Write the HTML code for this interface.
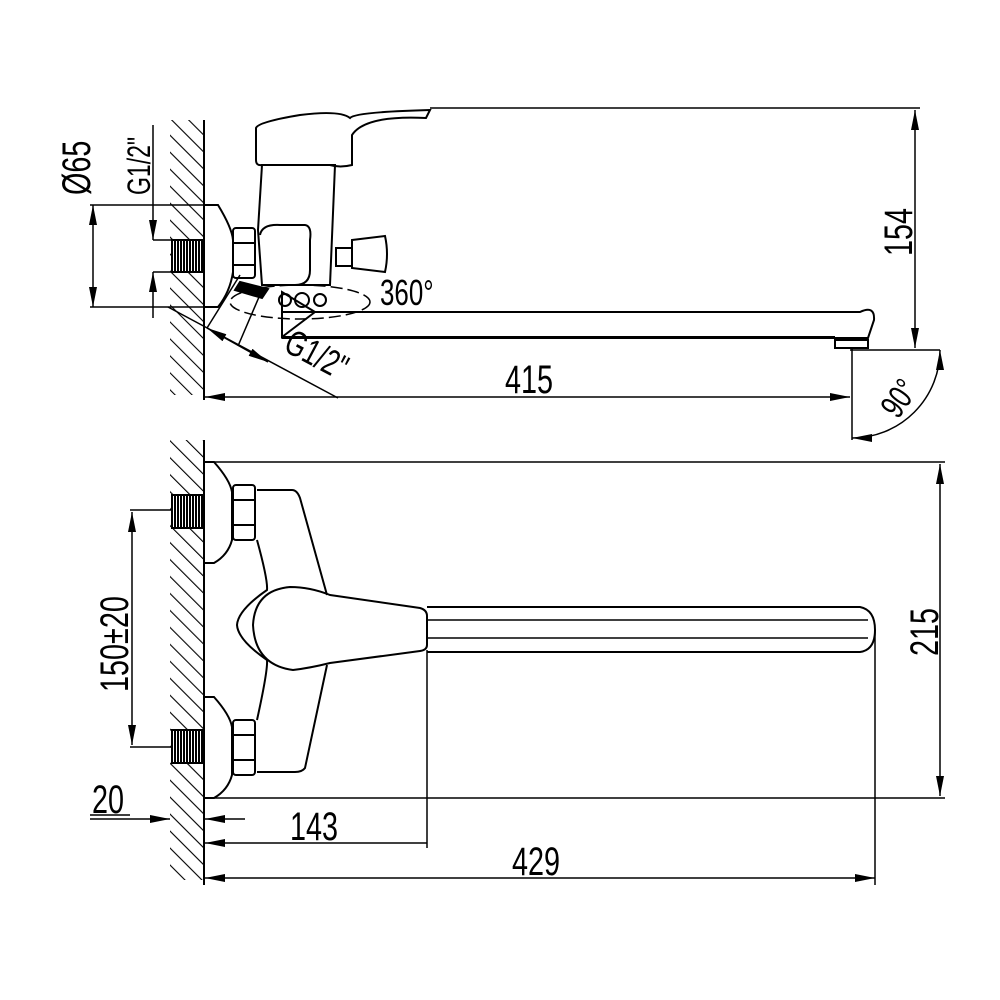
<!DOCTYPE html>
<html><head><meta charset="utf-8"><style>body{margin:0;background:#fff}svg{display:block}text{font-family:"Liberation Sans",sans-serif;fill:#000}</style></head><body>
<svg width="1000" height="1000" viewBox="0 0 1000 1000" xmlns="http://www.w3.org/2000/svg">
<defs>
<pattern id="h" width="12" height="12" patternUnits="userSpaceOnUse" patternTransform="rotate(-45)"><line x1="0" y1="0" x2="0" y2="12" stroke="#000" stroke-width="2.2"/></pattern>
<pattern id="t" width="3" height="10" patternUnits="userSpaceOnUse"><rect width="3" height="10" fill="#fff"/><rect width="2" height="10" fill="#000"/></pattern>
<marker id="a" viewBox="0 0 20 8" refX="20" refY="4" markerWidth="20" markerHeight="8" markerUnits="userSpaceOnUse" orient="auto-start-reverse"><path d="M0,0L20,4L0,8z" fill="#000"/></marker>
</defs>
<g fill="none" stroke="#000" stroke-width="2">
<!-- TOP VIEW -->
<rect x="170" y="120" width="34" height="275" fill="url(#h)" stroke="none"/>
<line x1="204" y1="120" x2="204" y2="400"/>
<rect x="172" y="240" width="32" height="32" fill="url(#t)" stroke="#000"/>
<path d="M204,205H218Q232,228 233,240V272Q230,292 218,307H204"/>
<line x1="90" y1="205" x2="218" y2="205" stroke-width="1.5"/>
<line x1="90" y1="307" x2="218" y2="307" stroke-width="1.5"/>
<line x1="93" y1="205" x2="93" y2="307" marker-start="url(#a)" marker-end="url(#a)" stroke-width="1.5"/>
<line x1="153" y1="125" x2="153" y2="240" marker-end="url(#a)" stroke-width="1.5"/>
<line x1="153" y1="318" x2="153" y2="272" marker-end="url(#a)" stroke-width="1.5"/>
<line x1="153" y1="240" x2="172" y2="240" stroke-width="1.5"/>
<line x1="153" y1="272" x2="172" y2="272" stroke-width="1.5"/>
<rect x="233" y="228" width="22" height="50" rx="3"/>
<line x1="233" y1="243" x2="255" y2="243"/><line x1="233" y1="265" x2="255" y2="265"/>
<path d="M262,165L258,230L262,285H330L335,165Z"/>
<path d="M260,235Q262,224 280,225H305Q312,226 310,240V270Q310,285 295,285H262"/>
<path d="M256,128Q258,122 300,115Q340,110 350,118Q355,112 430,110L426,118Q365,115 352,135V165Q340,168 330,165H262Q256,166 256,160Z"/>
<rect x="336" y="248" width="16" height="18"/>
<path d="M352,240L385,236Q389,254 385,272L352,268Z"/>
<path d="M240,282L268,289L262,298L235,290Z" fill="#000"/>
<ellipse cx="300" cy="302" rx="70" ry="17" stroke-dasharray="12 5" stroke-width="1.5"/>
<circle cx="285" cy="300" r="6"/><circle cx="302" cy="300" r="7"/><circle cx="320" cy="300" r="6"/>
<path d="M282,292V337L315,312Z"/>
<path d="M282,312H860Q875,305 874,320L868,338H282"/>
<line x1="282" y1="337" x2="835" y2="337"/>
<path d="M835,340H868V348H835Z"/>
<line x1="430" y1="108" x2="920" y2="108" stroke-width="1.5"/>
<line x1="850" y1="350" x2="940" y2="350" stroke-width="1.5"/>
<line x1="915" y1="110" x2="915" y2="348" marker-start="url(#a)" marker-end="url(#a)" stroke-width="1.5"/>
<line x1="852" y1="348" x2="852" y2="440" stroke-width="1.5"/>
<line x1="205" y1="397" x2="850" y2="397" marker-start="url(#a)" marker-end="url(#a)" stroke-width="1.5"/>
<path d="M852,438A88,88 0 0 0 940,350" marker-start="url(#a)" marker-end="url(#a)" stroke-width="1.5"/>
<line x1="168" y1="307" x2="338" y2="398" stroke-width="1.5"/>
<line x1="207" y1="328" x2="268" y2="362" marker-start="url(#a)" marker-end="url(#a)" stroke-width="1.5"/>
<line x1="207" y1="328" x2="240" y2="275" stroke-width="1.5"/>
<line x1="238" y1="346" x2="262" y2="290" stroke-width="1.5"/>
<!-- BOTTOM VIEW -->
<rect x="170" y="440" width="34" height="440" fill="url(#h)" stroke="none"/>
<line x1="204" y1="440" x2="204" y2="885"/>
<rect x="172" y="495" width="32" height="33" fill="url(#t)" stroke="#000"/>
<rect x="172" y="730" width="32" height="33" fill="url(#t)" stroke="#000"/>
<path d="M204,462H214Q230,480 232,492V540Q228,555 214,563H204"/>
<path d="M204,697H214Q230,715 232,727V775Q228,790 214,798H204"/>
<line x1="204" y1="462" x2="945" y2="462" stroke-width="1.5"/>
<line x1="204" y1="798" x2="945" y2="798" stroke-width="1.5"/>
<line x1="940" y1="464" x2="940" y2="796" marker-start="url(#a)" marker-end="url(#a)" stroke-width="1.5"/>
<rect x="233" y="485" width="22" height="55" rx="3"/><line x1="233" y1="500" x2="255" y2="500"/><line x1="233" y1="525" x2="255" y2="525"/>
<rect x="233" y="720" width="22" height="55" rx="3"/><line x1="233" y1="735" x2="255" y2="735"/><line x1="233" y1="760" x2="255" y2="760"/>
<path d="M257,490H292Q297,490 300,498L327,595M327,665L305,768Q302,772 295,772H257M257,540Q268,580 267,590Q238,610 237,625Q238,640 267,660Q268,670 257,720"/>
<path d="M330,595L420,608Q427,610 427,616V645Q427,650 420,651L330,663Q310,668 293,670Q255,665 253,625Q255,590 290,587Q310,587 330,595Z"/>
<path d="M427,607H860Q875,610 875,630Q875,650 860,652H427"/>
<line x1="427" y1="620" x2="868" y2="620" stroke-width="1.5"/>
<line x1="427" y1="638" x2="868" y2="638" stroke-width="1.5"/>
<line x1="427" y1="650" x2="427" y2="848" stroke-width="1.5"/>
<line x1="875" y1="630" x2="875" y2="885" stroke-width="1.5"/>
<line x1="130" y1="510" x2="172" y2="510" stroke-width="1.5"/>
<line x1="130" y1="747" x2="172" y2="747" stroke-width="1.5"/>
<line x1="132" y1="512" x2="132" y2="745" marker-start="url(#a)" marker-end="url(#a)" stroke-width="1.5"/>
<line x1="205" y1="843" x2="427" y2="843" marker-start="url(#a)" stroke-width="1.5"/>
<line x1="205" y1="878" x2="875" y2="878" marker-start="url(#a)" marker-end="url(#a)" stroke-width="1.5"/>
<line x1="90" y1="819" x2="170" y2="819" marker-end="url(#a)" stroke-width="1.5"/>
<line x1="245" y1="819" x2="205" y2="819" marker-end="url(#a)" stroke-width="1.5"/>
<line x1="90" y1="815" x2="130" y2="815" stroke-width="1.5"/>
</g>
<g font-size="40">
<text transform="translate(90,195) rotate(-90) scale(0.72,1)">Ø65</text>
<text transform="translate(150,195) rotate(-90) scale(0.72,1)" font-size="32">G1/2"</text>
<text transform="translate(912,256) rotate(-90) scale(0.72,1)">154</text>
<text transform="translate(505,393) scale(0.72,1)">415</text>
<text transform="translate(380,305) scale(0.72,1)" font-size="36">360°</text>
<text transform="translate(282,350) rotate(28) scale(0.72,1)" font-size="36">G1/2"</text>
<text transform="translate(898,420) rotate(-55) scale(0.72,1)" font-size="34">90°</text>
<text transform="translate(938,656) rotate(-90) scale(0.72,1)">215</text>
<text transform="translate(128,692) rotate(-90) scale(0.72,1)">150±20</text>
<text transform="translate(92,813) scale(0.72,1)">20</text>
<text transform="translate(290,840) scale(0.72,1)">143</text>
<text transform="translate(512,875) scale(0.72,1)">429</text>
</g>
</svg>
</body></html>
